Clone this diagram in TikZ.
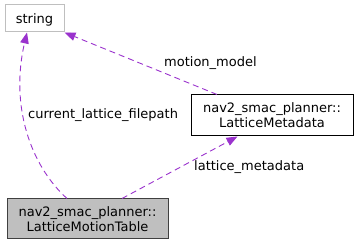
\documentclass[tikz,border=0pt]{standalone}
\usepackage{fontspec}
\setmainfont{DejaVu Sans}
\usetikzlibrary{arrows.meta}
\definecolor{edgecol}{HTML}{9A32CD}
\definecolor{grayfill}{HTML}{BFBFBF}
\definecolor{grayborder}{HTML}{BFBFBF}
\definecolor{darkborder}{HTML}{404040}
\begin{document}
\begin{tikzpicture}[x=1pt,y=-1pt,
  every node/.style={font=\fontsize{13}{15}\selectfont, inner sep=0pt},
  classbox/.style={draw, line width=1pt, align=center, text depth=0pt},
  rel/.style={edgecol, dashed, dash pattern=on 6pt off 4pt, line width=0.9pt,
    -{Triangle[length=11pt,width=8.5pt]}},
  lbl/.style={anchor=west}]
\useasboundingbox (0,0) rectangle (357,245);
\node[classbox, draw=grayborder, fill=white, minimum width=59pt, minimum height=27pt] (str) at (34.5,18.5) {string};
\node[classbox, draw=black, fill=white, minimum width=162pt, minimum height=41pt] (lm) at (272,115.5) {nav2\_smac\_planner::\\LatticeMetadata};
\node[classbox, draw=darkborder, fill=grayfill, minimum width=161pt, minimum height=40pt] (lmt) at (87.5,219) {nav2\_smac\_planner::\\LatticeMotionTable};
\draw[rel] ([xshift=-20.5pt]lmt.north) .. controls (30,165) and (10,105) .. ([xshift=-7.5pt]str.south);
\draw[rel] ([xshift=-55pt]lm.north) -- (str.south east);
\draw[rel] ([xshift=34.5pt]lmt.north) -- ([xshift=47pt]lm.south west);
\node[lbl] (l1) at (28,115) {current\_lattice\_filepath};
\node[lbl] (l2) at (164,63) {motion\_model};
\node[lbl] (l3) at (194,167) {lattice\_metadata};
\end{tikzpicture}
\end{document}
